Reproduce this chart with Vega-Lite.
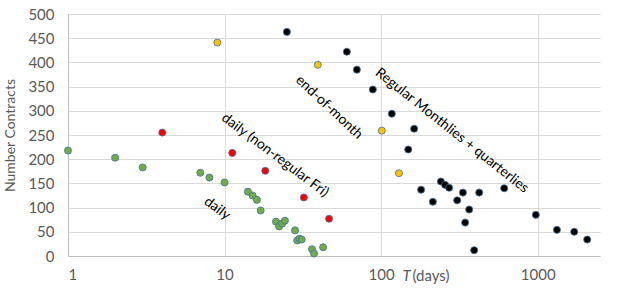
{
  "$schema": "https://vega.github.io/schema/vega-lite/v6.json",
  "width": 532,
  "height": 242,
  "autosize": {"type": "none"},
  "padding": {"left": 68, "top": 14, "right": 22, "bottom": 33},
  "background": "white",
  "config": {
    "view": {"stroke": null},
    "font": "Lato",
    "axis": {"labelFont": "Lato", "titleFont": "Lato", "labelColor": "#595959", "titleColor": "#595959", "labelFontSize": 15, "titleFontSize": 15, "titleFontWeight": "normal", "gridColor": "#d9d9d9", "domainColor": "#bfbfbf", "ticks": false}
  },
  "datasets": {
    "pts": [
      {"series": "daily", "T": 1, "N": 218},
      {"series": "daily", "T": 2, "N": 203},
      {"series": "daily", "T": 3, "N": 183},
      {"series": "daily", "T": 7, "N": 172},
      {"series": "daily", "T": 8, "N": 162},
      {"series": "daily", "T": 10, "N": 152},
      {"series": "daily", "T": 14.1, "N": 133},
      {"series": "daily", "T": 15.1, "N": 125},
      {"series": "daily", "T": 16.1, "N": 116},
      {"series": "daily", "T": 17, "N": 94},
      {"series": "daily", "T": 21.3, "N": 71},
      {"series": "daily", "T": 22.3, "N": 61},
      {"series": "daily", "T": 23.3, "N": 67},
      {"series": "daily", "T": 24.3, "N": 73},
      {"series": "daily", "T": 28.2, "N": 53},
      {"series": "daily", "T": 29.1, "N": 32},
      {"series": "daily", "T": 30.1, "N": 36},
      {"series": "daily", "T": 31.1, "N": 34},
      {"series": "daily", "T": 36.2, "N": 14},
      {"series": "daily", "T": 37.3, "N": 5},
      {"series": "daily", "T": 42.6, "N": 18},
      {"series": "nonregular", "T": 4, "N": 255},
      {"series": "nonregular", "T": 11.2, "N": 213},
      {"series": "nonregular", "T": 18.2, "N": 176},
      {"series": "nonregular", "T": 32.1, "N": 121},
      {"series": "nonregular", "T": 46.5, "N": 77},
      {"series": "eom", "T": 9, "N": 441},
      {"series": "eom", "T": 39.4, "N": 395},
      {"series": "eom", "T": 101, "N": 259},
      {"series": "eom", "T": 130, "N": 171},
      {"series": "regular", "T": 25, "N": 463},
      {"series": "regular", "T": 60.4, "N": 422},
      {"series": "regular", "T": 70, "N": 385},
      {"series": "regular", "T": 88.5, "N": 344},
      {"series": "regular", "T": 117, "N": 294},
      {"series": "regular", "T": 149, "N": 220},
      {"series": "regular", "T": 162.5, "N": 263},
      {"series": "regular", "T": 180, "N": 137},
      {"series": "regular", "T": 214, "N": 112},
      {"series": "regular", "T": 241, "N": 154},
      {"series": "regular", "T": 256, "N": 147},
      {"series": "regular", "T": 272, "N": 141},
      {"series": "regular", "T": 306, "N": 115},
      {"series": "regular", "T": 333, "N": 131},
      {"series": "regular", "T": 344, "N": 69},
      {"series": "regular", "T": 365, "N": 96},
      {"series": "regular", "T": 393, "N": 12},
      {"series": "regular", "T": 423, "N": 131},
      {"series": "regular", "T": 611, "N": 140},
      {"series": "regular", "T": 973, "N": 85},
      {"series": "regular", "T": 1327, "N": 54},
      {"series": "regular", "T": 1711, "N": 50},
      {"series": "regular", "T": 2071, "N": 34}
    ]
  },
  "resolve": {"axis": {"x": "independent", "y": "independent"}},
  "layer": [
    {
      "data": {"name": "pts"},
      "mark": {"type": "point", "filled": true, "size": 50, "strokeWidth": 0.8, "stroke": "#41719c", "opacity": 1},
      "encoding": {
        "x": {"field": "T", "type": "quantitative", "scale": {"type": "log", "domain": [1, 2500], "nice": false},
          "axis": {"values": [1, 10, 100, 1000], "format": "d", "grid": true, "domain": true, "labelPadding": 11, "title": "(days)", "titleAnchor": "start", "titleAlign": "left", "titleBaseline": "middle", "titleX": 344, "titleY": 19}},
        "y": {"field": "N", "type": "quantitative", "scale": {"domain": [0, 500], "nice": false},
          "axis": {"values": [0, 50, 100, 150, 200, 250, 300, 350, 400, 450, 500], "grid": true, "domain": true, "labelOverlap": false, "labelPadding": 14, "title": "Number Contracts", "titleFontSize": 14, "titlePadding": 10}},
        "fill": {"field": "series", "type": "nominal", "legend": null,
          "scale": {"domain": ["daily", "nonregular", "eom", "regular"], "range": ["#70ad47", "#ff0000", "#ffc000", "#000000"]}}
      }
    },
    {
      "data": {"values": [{"label": "Regular Monthlies + quarterlies", "T": 283, "N": 259}]},
      "mark": {"type": "text", "angle": 38.5, "fontSize": 14, "color": "#000000", "font": "Lato"},
      "encoding": {
        "x": {"field": "T", "type": "quantitative", "scale": {"type": "log", "domain": [1, 2500], "nice": false},
          "axis": {"orient": "bottom", "domain": false, "labels": false, "grid": false, "ticks": false, "title": "T", "titleFontStyle": "italic", "titleAnchor": "start", "titleAlign": "left", "titleBaseline": "middle", "titleX": 334, "titleY": 19}},
        "y": {"field": "N", "type": "quantitative", "axis": null},
        "text": {"field": "label"}
      }
    },
    {
      "data": {"values": [{"label": "end-of-month", "T": 46.5, "N": 307}]},
      "mark": {"type": "text", "angle": 43, "fontSize": 14, "color": "#000000", "font": "Lato"},
      "encoding": {
        "x": {"field": "T", "type": "quantitative", "axis": null},
        "y": {"field": "N", "type": "quantitative", "axis": null},
        "text": {"field": "label"}
      }
    },
    {
      "data": {"values": [{"label": "daily (non-regular Fri)", "T": 21, "N": 208}]},
      "mark": {"type": "text", "angle": 37, "fontSize": 14, "color": "#000000", "font": "Lato"},
      "encoding": {
        "x": {"field": "T", "type": "quantitative", "axis": null},
        "y": {"field": "N", "type": "quantitative", "axis": null},
        "text": {"field": "label"}
      }
    },
    {
      "data": {"values": [{"label": "daily", "T": 8.96, "N": 98}]},
      "mark": {"type": "text", "angle": 37, "fontSize": 14, "color": "#000000", "font": "Lato"},
      "encoding": {
        "x": {"field": "T", "type": "quantitative", "axis": null},
        "y": {"field": "N", "type": "quantitative", "axis": null},
        "text": {"field": "label"}
      }
    }
  ]
}
